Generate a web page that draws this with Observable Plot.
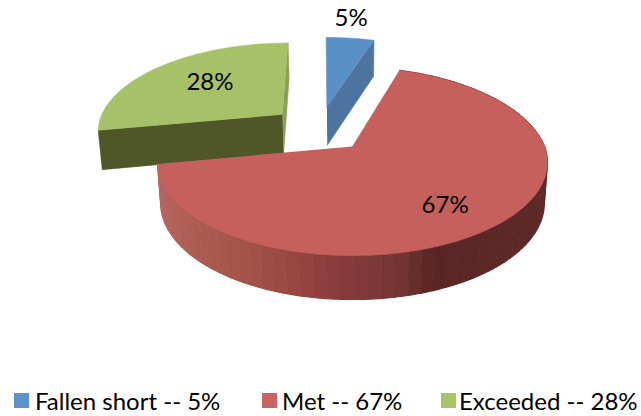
<!DOCTYPE html>
<html><head><meta charset="utf-8">
<script src="https://cdn.jsdelivr.net/npm/d3@7"></script>
<script src="https://cdn.jsdelivr.net/npm/@observablehq/plot@0.6"></script>
<style>
html,body{margin:0;padding:0;background:#fff;}
#chart{width:641px;position:relative;}
.legend{position:absolute;left:0;top:386px;width:641px;height:30px;font:24px Lato,"Open Sans",sans-serif;color:#000;white-space:nowrap;}
.legend span{position:absolute;top:0;line-height:30px;}
.legend i{position:absolute;top:7px;width:15px;height:15px;}
</style></head><body><div id="chart"></div>
<script>
const categories = ["Fallen short", "Met", "Exceeded"];
const values = [5, 67, 28];
const topColors = ["#5b90c6", "#c5605c", "#a6c167"];
const faceColors = ["#4d73a0", "#5e2a27", "#4f5728"];
const backColors = ["#4d73a0", "#5e2a27", "#8a9f58"];
const labelRadius = [1.26, 0.62, 0.62];
const labelNudgeX = [-4, 7, 6];
const labelNudgeY = [-5, 13, -1];
const wallPositions = [158, 200, 250, 300, 350, 400, 418, 430, 550];
const wallShades = ["#b5655f", "#ad5b52", "#a35249", "#964440", "#853a3a", "#733433", "#652c2a", "#5a2624", "#5e2a27"];

// Tilted-disc projection (pie plane → picture)
const W = 641, H = 376, apex = [352, 146], A = 192, B = 90.3, C = 0.172, E = 0.265, DEPTH = 40;
const TAU = Math.PI * 2;
const total = d3.sum(values);
let acc = 0;
const slices = values.map((v, i) => {
  const a0 = acc / total * TAU; acc += v; const a1 = acc / total * TAU;
  return {i, v, a0, a1, mid: (a0 + a1) / 2};
});
const red = slices[1];
const ref = [E * Math.sin(red.mid), E * Math.cos(red.mid)];
function project(s, r, a, low) {
  const X = E * Math.sin(s.mid) - ref[0] + r * Math.sin(a);
  const Y = E * Math.cos(s.mid) - ref[1] + r * Math.cos(a);
  const k = 1 / (1 + C * Y);
  const back = Math.max(0, Y);
  let x = apex[0] + A * X * k - 4 * back, y = apex[1] - B * Y * k - 2.5 * back;
  if (low) { x = apex[0] + (x - apex[0]) * 0.984; y += DEPTH * Math.sqrt(k); }
  return {x, y};
}
function rim(s, from, to, low) {
  const n = Math.max(2, Math.ceil(Math.abs(to - from) / 0.02));
  return d3.range(n + 1).map(j => project(s, 1, from + (to - from) * j / n, low));
}
const face = (pts, color, w = 0.6) => Plot.line(pts, {x: "x", y: "y", fill: color, stroke: color, strokeWidth: w, curve: "linear"});
function radialFace(s, a, color) {
  return face([project(s, 0, a, false), project(s, 1, a, false), project(s, 1, a, true), project(s, 0, a, true)], color);
}
function topFace(s) {
  return face([project(s, 0, 0, false), ...rim(s, s.a0, s.a1, false)], topColors[s.i]);
}
const wallColor = d3.scaleLinear().domain(wallPositions).range(wallShades).clamp(true);
function wallStrips(s) {
  const step = 0.06, out = [];
  for (let a = s.a0; a < s.a1; a += step) {
    const b = Math.min(a + step, s.a1);
    const pts = [...rim(s, a, b, false), ...rim(s, b, a, true)];
    out.push(face(pts, wallColor(d3.mean(pts, p => p.x)), 1.2));
  }
  return out;
}
const [blue, , green] = slices;
const labels = slices.map(s => {
  const p = project(s, labelRadius[s.i], s.mid, false);
  return {x: p.x + labelNudgeX[s.i], y: p.y + labelNudgeY[s.i], text: `${s.v}%`};
});

const marks = [
  radialFace(green, green.a1, backColors[2]),
  radialFace(green, green.a0, faceColors[2]),
  topFace(green),
  radialFace(blue, blue.a1, faceColors[0]),
  topFace(blue),
  ...wallStrips(red),
  topFace(red),
  Plot.text(labels, {x: "x", y: "y", text: "text", fontSize: 24, fill: "#000", fontFamily: "Lato, 'Open Sans', sans-serif"})
];
const plot = Plot.plot({
  width: W, height: H, margin: 0,
  x: {domain: [0, W], range: [0, W], axis: null},
  y: {domain: [0, H], range: [0, H], axis: null},
  marks
});
const chart = document.getElementById("chart");
chart.style.height = "416px";
chart.append(plot);
const swatchLeft = [14, 262, 441], textLeft = [35, 282, 459];
const legend = document.createElement("div");
legend.className = "legend";
categories.forEach((c, i) => {
  const sw = document.createElement("i");
  sw.style.left = swatchLeft[i] + "px";
  sw.style.background = ["#5b93cc", "#cc6360", "#a9c468"][i];
  const t = document.createElement("span");
  t.style.left = textLeft[i] + "px";
  t.textContent = `${c} -- ${values[i]}%`;
  legend.append(sw, t);
});
chart.append(legend);
</script></body></html>
